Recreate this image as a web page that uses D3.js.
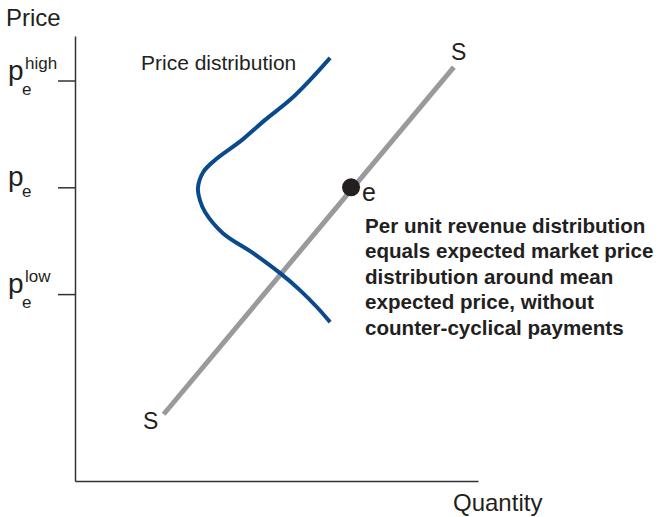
<!DOCTYPE html>
<html lang="en">
<head>
<meta charset="UTF-8">
<script src="https://d3js.org/d3.v7.min.js"></script>
<style>
  body { margin: 0; background: #fff; font-family: "Liberation Sans", Arial, sans-serif; }
  .axis path, .axis line { stroke: #333; stroke-width: 1.5; }
  text { fill: #231f20; }
</style>
</head>
<body>
<svg id="chart" width="664" height="517"></svg>
<script>
// price levels on the vertical axis (arbitrary units 0-100)
var priceTicks = [42, 66, 90];
var priceTickSup = ["low", "", "high"];

// supply line S-S (quantity, price)
var supplyQ = [22, 94];
var supplyP = [15, 93];

// equilibrium point e
var eqQ = 68.5, eqP = 66;

// price distribution curve
var distQ = [63.3, 58.3, 53.3, 47.1, 41.4, 34.7, 31.8, 30.5, 31.0, 32.3, 36.7, 44.2, 50.9, 55.8, 60.0, 63.3];
var distP = [95.1, 90.1, 85.6, 81.1, 76.6, 72.1, 69.4, 65.8, 63.1, 60.4, 55.7, 51.2, 46.7, 42.9, 39.1, 35.7];

var noteLines = [
  "Per unit revenue distribution",
  "equals expected market price",
  "distribution around mean",
  "expected price, without",
  "counter-cyclical payments"
];

var svg = d3.select("#chart");
var x = d3.scaleLinear().domain([0, 100]).range([75, 478]);
var y = d3.scaleLinear().domain([0, 100]).range([481, 36]);

svg.append("g")
    .attr("class", "axis")
    .attr("transform", "translate(75,0)")
    .call(d3.axisLeft(y).tickValues(priceTicks).tickFormat("").tickSize(17).tickSizeOuter(0));

svg.append("g")
    .attr("class", "axis")
    .attr("transform", "translate(0,481)")
    .call(d3.axisBottom(x).tickValues([]).tickSizeOuter(0));

// tick labels p_e with superscripts
priceTicks.forEach(function(v, i) {
  var t = svg.append("text").attr("x", 8).attr("y", y(v) - 1);
  t.append("tspan").style("font-size", "28px").text("p");
  if (priceTickSup[i]) {
    t.append("tspan").attr("x", 25).attr("dy", -11).style("font-size", "17px").text(priceTickSup[i]);
    t.append("tspan").attr("x", 22).attr("dy", 26).style("font-size", "17px").text("e");
  } else {
    t.append("tspan").attr("x", 22).attr("dy", 11).style("font-size", "17px").text("e");
  }
});

svg.append("text").attr("x", 6).attr("y", 26).style("font-size", "24px").text("Price");
svg.append("text").attr("x", 453).attr("y", 511).style("font-size", "24px").text("Quantity");

// supply line
var line = d3.line().x(function(d) { return x(d[0]); }).y(function(d) { return y(d[1]); });
svg.append("path")
    .datum(d3.zip(supplyQ, supplyP))
    .attr("d", line)
    .attr("fill", "none")
    .attr("stroke", "#9a9a9c")
    .attr("stroke-width", 5);

svg.append("text").attr("x", 451).attr("y", 60).style("font-size", "23px").text("S");
svg.append("text").attr("x", 143).attr("y", 429).style("font-size", "23px").text("S");

// price distribution
svg.append("path")
    .datum(d3.zip(distQ, distP))
    .attr("d", line.curve(d3.curveCatmullRom))
    .attr("fill", "none")
    .attr("stroke", "#0a4a8c")
    .attr("stroke-width", 4);

svg.append("text").attr("x", 141).attr("y", 70).style("font-size", "21px").text("Price distribution");

// equilibrium point
svg.append("circle").attr("cx", x(eqQ)).attr("cy", y(eqP)).attr("r", 9).attr("fill", "#231f20");
svg.append("text").attr("x", 362).attr("y", 201).style("font-size", "25px").text("e");

svg.append("g").selectAll("text")
    .data(noteLines)
    .enter().append("text")
    .attr("x", 365)
    .attr("y", function(d, i) { return 233 + i * 25.4; })
    .style("font-size", "20.6px")
    .style("font-weight", "bold")
    .text(function(d) { return d; });
</script>
</body>
</html>
